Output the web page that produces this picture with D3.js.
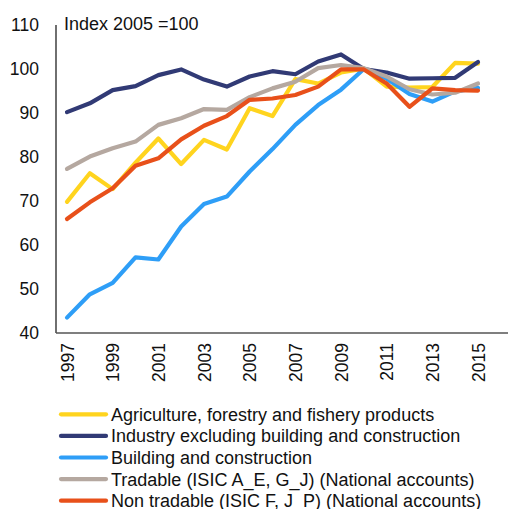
<!DOCTYPE html>
<html>
<head>
<meta charset="utf-8">
<script src="https://cdn.jsdelivr.net/npm/d3@7"></script>
<style>
  html, body { margin: 0; padding: 0; background: #fff; }
  svg { display: block; font-family: "Liberation Sans", Arial, sans-serif; }
</style>
</head>
<body>
<svg id="chart" width="508" height="509"></svg>
<script>
const years = [1997,1998,1999,2000,2001,2002,2003,2004,2005,2006,2007,2008,2009,2010,2011,2012,2013,2014,2015];
const xTickYears = [1997,1999,2001,2003,2005,2007,2009,2011,2013,2015];
const yTicks = [40,50,60,70,80,90,100,110];

const seriesNames = [
  "Agriculture, forestry and fishery products",
  "Industry excluding building and construction",
  "Building and construction",
  "Tradable (ISIC A_E, G_J) (National accounts)",
  "Non tradable (ISIC F, J_P) (National accounts)"
];
const seriesColors = ["#FFD41E", "#313A75", "#2E9EF7", "#B5A8A0", "#E8501A"];

const agriculture = [69.8,76.3,72.7,78.7,84.2,78.4,83.9,81.7,91.1,89.3,97.7,96.7,99.2,100.1,96.0,95.8,95.9,101.4,101.2];
const industry    = [90.2,92.2,95.2,96.1,98.6,99.9,97.6,96.0,98.3,99.5,98.8,101.7,103.3,100.0,99.2,97.8,97.9,98.0,101.6];
const building    = [43.5,48.8,51.4,57.2,56.7,64.2,69.3,71.0,76.7,81.8,87.3,91.8,95.3,100.0,97.8,94.3,92.6,94.9,95.7];
const tradable    = [77.3,80.1,82.0,83.5,87.3,88.8,90.9,90.7,93.6,95.6,97.1,100.2,100.9,100.2,98.3,95.4,94.2,94.6,96.7];
const nonTradable = [65.9,69.7,72.9,78.0,79.7,84.0,87.1,89.3,93.0,93.3,94.1,96.0,99.9,99.9,96.7,91.4,95.6,95.2,95.1];

const seriesValues = [agriculture, industry, building, tradable, nonTradable];

const svg = d3.select("#chart");
const fontSize = 17.5;

const x = d3.scaleLinear().domain([1997, 2015]).range([67, 478]);
const y = d3.scaleLinear().domain([40, 110]).range([333, 25]);

// Y axis
const yAxis = d3.axisLeft(y).tickValues(yTicks).tickSize(0).tickPadding(17);
const gy = svg.append("g").attr("transform", "translate(56,0)").call(yAxis);
gy.select(".domain").remove();
gy.selectAll("text").attr("font-size", fontSize).attr("fill", "#111").style("font-family", "Liberation Sans, Arial, sans-serif");
svg.append("line").attr("x1", 56).attr("x2", 56).attr("y1", y(110)).attr("y2", y(40))
  .attr("stroke", "#222").attr("stroke-width", 1.3);

// X axis
const xAxis = d3.axisBottom(x).tickValues(xTickYears).tickFormat(d3.format("d")).tickSize(0).tickPadding(0);
const gx = svg.append("g").attr("transform", `translate(0,${y(40)})`).call(xAxis);
gx.select(".domain").remove();
gx.selectAll("text")
  .attr("font-size", fontSize).attr("fill", "#111")
  .style("font-family", "Liberation Sans, Arial, sans-serif")
  .attr("text-anchor", "end")
  .attr("dy", "0.35em")
  .attr("transform", "translate(0,10) rotate(-90)")
  .attr("x", 0).attr("y", 0);
svg.append("line").attr("x1", 56).attr("x2", 508).attr("y1", y(40)).attr("y2", y(40))
  .attr("stroke", "#555").attr("stroke-width", 1.3);

// Index label
svg.append("text").attr("x", 64).attr("y", 30).attr("font-size", 18).attr("fill", "#111")
  .text("Index 2005 =100");

// Lines
const line = d3.line().x((d, i) => x(years[i])).y(d => y(d));
seriesValues.forEach((vals, k) => {
  svg.append("path").datum(vals)
    .attr("d", line)
    .attr("fill", "none")
    .attr("stroke", seriesColors[k])
    .attr("stroke-width", 4.2)
    .attr("stroke-linejoin", "round")
    .attr("stroke-linecap", "round");
});

// Legend
const lg = svg.append("g");
seriesNames.forEach((name, k) => {
  const cy = 414.3 + k * 21.6;
  lg.append("line").attr("x1", 61).attr("x2", 106).attr("y1", cy).attr("y2", cy)
    .attr("stroke", seriesColors[k]).attr("stroke-width", 4.2).attr("stroke-linecap", "round");
  lg.append("text").attr("x", 111).attr("y", cy).attr("dy", "0.36em")
    .attr("font-size", 18).attr("fill", "#111").text(name);
});
</script>
</body>
</html>
